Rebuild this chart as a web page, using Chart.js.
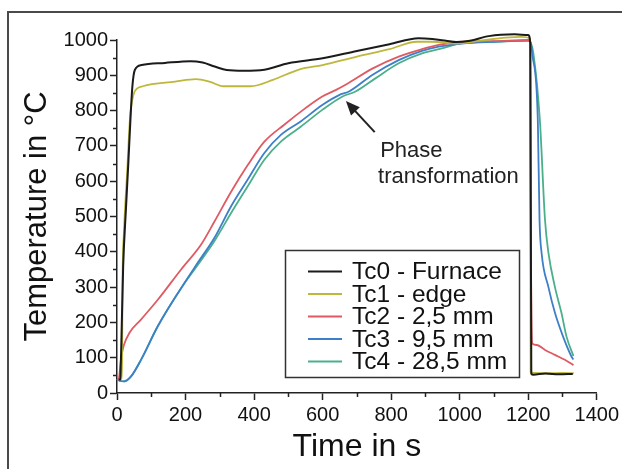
<!DOCTYPE html>
<html>
<head>
<meta charset="utf-8">
<script src="https://cdn.jsdelivr.net/npm/chart.js@4.4.1/dist/chart.umd.min.js"></script>
<style>
html, body { margin: 0; padding: 0; background: #fff; }
</style>
</head>
<body>
<canvas id="grafico" width="622" height="469"></canvas>
<script>
// series (tiempo en s, temperatura en C)
const etiquetas = ['Tc0 - Furnace', 'Tc1 - edge', 'Tc2 - 2,5 mm', 'Tc3 - 9,5 mm', 'Tc4 - 28,5 mm'];

const tc0Tiempo = [5, 10, 11, 12, 18, 26, 33, 40, 45, 52, 72, 140, 215, 250, 285, 320, 370, 430, 500, 600, 700, 795, 880, 920, 960, 990, 1030, 1085, 1160, 1200, 1206, 1209, 1215, 1250, 1290, 1330];
const tc0Temp = [38, 38, 80, 113, 359, 520, 650, 790, 870, 915, 929, 935, 940, 936, 925, 915, 913, 916, 934, 948, 969, 988, 1005, 1003, 998, 994, 998, 1011, 1016, 1014, 990, 55, 52, 55, 53, 54];

const tc1Tiempo = [5, 13, 15, 16, 20, 30, 38, 48, 58, 75, 170, 230, 270, 310, 390, 455, 533, 600, 700, 795, 875, 920, 990, 1060, 1135, 1180, 1205, 1207, 1215, 1260, 1300, 1333];
const tc1Temp = [38, 40, 100, 300, 450, 632, 780, 845, 862, 869, 882, 889, 882, 869, 869, 887, 917, 929, 953, 974, 995, 995, 990, 998, 1007, 1009, 1005, 60, 57, 56, 57, 56];

const tc2Tiempo = [0, 5, 12, 20, 36, 70, 119, 187, 245, 284, 333, 381, 430, 488, 550, 599, 638, 667, 745, 822, 890, 939, 1006, 1100, 1200, 1206, 1208, 1212, 1225, 1249, 1278, 1307, 1332];
const tc2Temp = [38, 40, 99, 135, 170, 208, 264, 350, 420, 485, 570, 645, 712, 760, 807, 840, 858, 873, 919, 953, 974, 986, 995, 997, 1000, 995, 400, 140, 136, 122, 108, 94, 79];

const tc3Tiempo = [0, 10, 21, 41, 70, 119, 187, 235, 284, 333, 381, 430, 479, 537, 599, 648, 677, 745, 822, 890, 939, 1006, 1100, 1200, 1208, 1212, 1228, 1233, 1239, 1259, 1278, 1302, 1327, 1332];
const tc3Temp = [40, 34, 33, 47, 94, 189, 297, 368, 439, 529, 604, 680, 732, 770, 816, 844, 854, 901, 943, 969, 981, 990, 995, 998, 990, 960, 773, 490, 397, 300, 227, 159, 102, 95];

const tc4Tiempo = [0, 10, 21, 41, 70, 119, 187, 235, 284, 333, 381, 430, 479, 537, 599, 658, 696, 755, 822, 890, 948, 1006, 1100, 1200, 1208, 1215, 1234, 1249, 1259, 1278, 1297, 1312, 1332];
const tc4Temp = [40, 34, 33, 47, 94, 189, 297, 362, 430, 510, 585, 661, 713, 755, 802, 840, 854, 892, 934, 962, 976, 991, 995, 998, 990, 963, 773, 490, 397, 300, 227, 159, 105];

const tiempos = [tc0Tiempo, tc1Tiempo, tc2Tiempo, tc3Tiempo, tc4Tiempo];
const temps = [tc0Temp, tc1Temp, tc2Temp, tc3Temp, tc4Temp];
const colores = ['#1b1b1b', '#bdb83c', '#e05a63', '#3d7fc9', '#4bb08a'];

const fuente = '"Liberation Sans", Arial, sans-serif';

function juntar(t, v) {
    var puntos = [];
    for (let i = 0; i < t.length; i++) {
        puntos.push({ x: t[i], y: v[i] });
    }
    return puntos;
}

// marco, ticks menores, leyenda y anotacion
const extras = {
    id: 'extras',
    beforeDraw(chart) {
        const ctx = chart.ctx;
        ctx.save();
        ctx.fillStyle = '#fff';
        ctx.fillRect(0, 0, chart.width, chart.height);
        ctx.strokeStyle = '#4a4a4a';
        ctx.lineWidth = 2;
        ctx.strokeRect(8, 12, 700, 600);
        ctx.restore();
    },
    afterDatasetsDraw(chart) {
        const ctx = chart.ctx;
        const x = chart.scales.x;
        const y = chart.scales.y;
        const area = chart.chartArea;
        ctx.save();
        ctx.strokeStyle = '#222';
        ctx.lineWidth = 1.5;
        ctx.beginPath();
        for (let v = 50; v < 1000; v += 100) {
            const py = Math.round(y.getPixelForValue(v)) + 0.5;
            ctx.moveTo(area.left, py);
            ctx.lineTo(area.left - 4, py);
        }
        for (let v = 100; v < 1400; v += 200) {
            const px = Math.round(x.getPixelForValue(v)) + 0.5;
            ctx.moveTo(px, area.bottom);
            ctx.lineTo(px, area.bottom + 4);
        }
        ctx.stroke();

        // leyenda
        ctx.fillStyle = '#fff';
        ctx.fillRect(285, 250, 234, 127);
        ctx.strokeStyle = '#333';
        ctx.lineWidth = 1.5;
        ctx.strokeRect(285.5, 250.5, 234, 127);
        ctx.font = '24.5px ' + fuente;
        ctx.textBaseline = 'middle';
        ctx.textAlign = 'left';
        chart.data.datasets.forEach((ds, i) => {
            const ly = 271.5 + i * 22.5;
            ctx.strokeStyle = ds.borderColor;
            ctx.lineWidth = 2;
            ctx.beginPath();
            ctx.moveTo(308, ly);
            ctx.lineTo(342, ly);
            ctx.stroke();
            ctx.fillStyle = '#111';
            ctx.fillText(ds.label, 352, ly + 1);
        });

        // flecha "Phase transformation"
        const punta = { x: x.getPixelForValue(668), y: y.getPixelForValue(827) };
        const cola = { x: x.getPixelForValue(752), y: y.getPixelForValue(739) };
        const ang = Math.atan2(punta.y - cola.y, punta.x - cola.x);
        ctx.strokeStyle = '#222';
        ctx.fillStyle = '#222';
        ctx.lineWidth = 2;
        ctx.beginPath();
        ctx.moveTo(cola.x, cola.y);
        ctx.lineTo(punta.x - 10 * Math.cos(ang), punta.y - 10 * Math.sin(ang));
        ctx.stroke();
        ctx.beginPath();
        ctx.moveTo(punta.x, punta.y);
        ctx.lineTo(punta.x - 14 * Math.cos(ang) + 6 * Math.sin(ang), punta.y - 14 * Math.sin(ang) - 6 * Math.cos(ang));
        ctx.lineTo(punta.x - 14 * Math.cos(ang) - 6 * Math.sin(ang), punta.y - 14 * Math.sin(ang) + 6 * Math.cos(ang));
        ctx.closePath();
        ctx.fill();
        ctx.font = '22px ' + fuente;
        ctx.textBaseline = 'alphabetic';
        ctx.fillStyle = '#222';
        ctx.fillText('Phase', x.getPixelForValue(768), y.getPixelForValue(669));
        ctx.fillText('transformation', x.getPixelForValue(762), y.getPixelForValue(595));
        ctx.restore();
    }
};

const datasets = etiquetas.map((nombre, i) => ({
    label: nombre,
    data: juntar(tiempos[i], temps[i]),
    borderColor: colores[i],
    backgroundColor: colores[i],
    borderWidth: i == 0 ? 2 : 1.8,
    showLine: true,
    pointRadius: 0,
    cubicInterpolationMode: 'monotone',
    clip: false
}));

const grafico = new Chart(document.getElementById('grafico'), {
    type: 'scatter',
    data: { datasets: datasets },
    options: {
        responsive: false,
        animation: false,
        devicePixelRatio: 1,
        layout: { padding: { left: 10, top: 40, right: 24, bottom: 0 } },
        plugins: { legend: { display: false }, tooltip: { enabled: false } },
        scales: {
            x: {
                type: 'linear',
                min: 0,
                max: 1400,
                ticks: { stepSize: 200, color: '#111', padding: 3, maxRotation: 0, font: { family: fuente, size: 20 }, callback: (v) => String(v) },
                grid: { drawOnChartArea: false, tickLength: 7, tickColor: '#222', tickWidth: 1.5 },
                border: { color: '#222', width: 1.5 },
                title: { display: true, text: 'Time in s', color: '#111', font: { family: fuente, size: 32 }, padding: { top: 0, bottom: 3 } },
                afterFit(s) { s.height = 469 - 393; }
            },
            y: {
                min: 0,
                max: 1000,
                ticks: { stepSize: 100, color: '#111', padding: 2, font: { family: fuente, size: 20 }, callback: (v) => String(v) },
                grid: { drawOnChartArea: false, tickLength: 7, tickColor: '#222', tickWidth: 1.5 },
                border: { color: '#222', width: 1.5 },
                title: { display: true, text: 'Temperature in °C', color: '#111', font: { family: fuente, size: 31 }, padding: { top: 9, bottom: 0 } },
                afterFit(s) { s.width = 117 - 10; }
            }
        }
    },
    plugins: [extras]
});
</script>
</body>
</html>
